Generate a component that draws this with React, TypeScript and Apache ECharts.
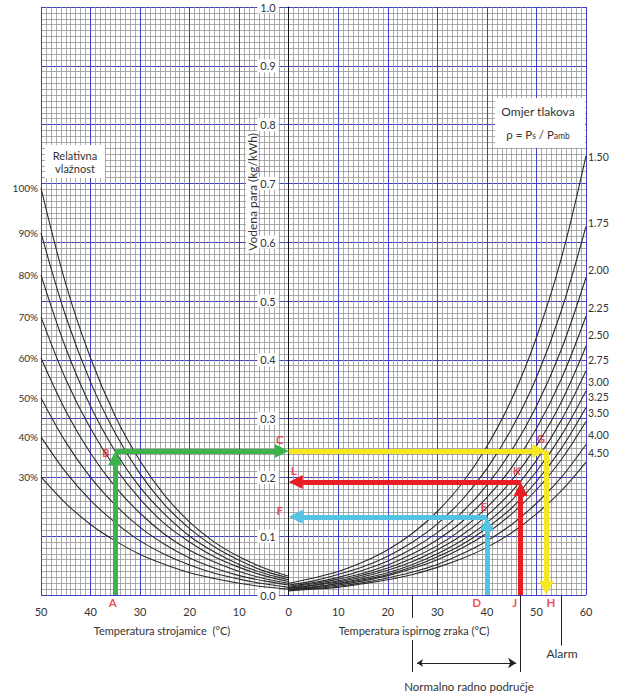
import React, { useEffect, useRef } from 'react';
import * as echarts from 'echarts';

// Engine-room temperature (left half, plotted at x = -T)
const ENGINE_ROOM_T = [50, 45, 40, 35, 30, 25, 20, 15, 10, 5, 0];
const RH_NAMES = ['100%', '90%', '80%', '70%', '60%', '50%', '40%', '30%'];
const RH_100 = [0.692, 0.529, 0.403, 0.304, 0.228, 0.169, 0.124, 0.090, 0.065, 0.046, 0.032];
const RH_90 = [0.616, 0.474, 0.362, 0.275, 0.206, 0.153, 0.113, 0.082, 0.059, 0.041, 0.029];
const RH_80 = [0.544, 0.420, 0.321, 0.244, 0.183, 0.137, 0.100, 0.073, 0.052, 0.037, 0.026];
const RH_70 = [0.473, 0.367, 0.283, 0.216, 0.163, 0.121, 0.090, 0.065, 0.047, 0.033, 0.023];
const RH_60 = [0.403, 0.313, 0.241, 0.184, 0.139, 0.103, 0.076, 0.056, 0.040, 0.028, 0.020];
const RH_50 = [0.335, 0.260, 0.200, 0.153, 0.115, 0.086, 0.063, 0.046, 0.033, 0.024, 0.017];
const RH_40 = [0.269, 0.209, 0.161, 0.123, 0.092, 0.069, 0.051, 0.037, 0.027, 0.019, 0.013];
const RH_30 = [0.201, 0.156, 0.120, 0.092, 0.069, 0.052, 0.038, 0.028, 0.020, 0.014, 0.010];
const RH_CURVES = [RH_100, RH_90, RH_80, RH_70, RH_60, RH_50, RH_40, RH_30];

// Scavenge-air temperature (right half)
const SCAV_T = [0, 5, 10, 15, 20, 25, 30, 35, 40, 45, 50, 55, 60];
const RATIO_NAMES = ['1.50', '1.75', '2.00', '2.25', '2.50', '2.75', '3.00', '3.25', '3.50', '4.00', '4.50'];
const P_150 = [0.020, 0.029, 0.040, 0.056, 0.077, 0.105, 0.142, 0.190, 0.253, 0.333, 0.438, 0.572, 0.747];
const P_175 = [0.017, 0.024, 0.035, 0.048, 0.066, 0.090, 0.121, 0.162, 0.215, 0.283, 0.370, 0.483, 0.627];
const P_200 = [0.015, 0.021, 0.030, 0.042, 0.058, 0.079, 0.106, 0.141, 0.187, 0.246, 0.321, 0.417, 0.540];
const P_225 = [0.013, 0.019, 0.027, 0.037, 0.051, 0.070, 0.094, 0.125, 0.166, 0.217, 0.283, 0.367, 0.474];
const P_250 = [0.012, 0.017, 0.024, 0.034, 0.046, 0.063, 0.084, 0.112, 0.149, 0.195, 0.254, 0.328, 0.423];
const P_275 = [0.011, 0.016, 0.022, 0.031, 0.042, 0.057, 0.077, 0.102, 0.135, 0.176, 0.229, 0.297, 0.381];
const P_300 = [0.010, 0.014, 0.020, 0.028, 0.038, 0.052, 0.070, 0.093, 0.123, 0.161, 0.210, 0.271, 0.347];
const P_325 = [0.009, 0.013, 0.019, 0.026, 0.035, 0.048, 0.065, 0.086, 0.114, 0.148, 0.193, 0.249, 0.319];
const P_350 = [0.009, 0.012, 0.017, 0.024, 0.033, 0.045, 0.060, 0.080, 0.105, 0.138, 0.179, 0.230, 0.295];
const P_400 = [0.008, 0.011, 0.015, 0.021, 0.029, 0.039, 0.052, 0.070, 0.092, 0.120, 0.156, 0.200, 0.256];
const P_450 = [0.007, 0.010, 0.013, 0.019, 0.026, 0.035, 0.047, 0.062, 0.081, 0.106, 0.138, 0.177, 0.226];
const RATIO_CURVES = [P_150, P_175, P_200, P_225, P_250, P_275, P_300, P_325, P_350, P_400, P_450];
const RATIO_LABEL_AT = [0.745, 0.633, 0.553, 0.488, 0.442, 0.400, 0.362, 0.337, 0.310, 0.272, 0.241];

// Worked examples (data coords: x = temperature, left side negative)
const GREEN_PATH = [[-35, 0], [-35, 0.245], [0, 0.245]];
const YELLOW_PATH = [[0, 0.245], [52, 0.245], [52, 0]];
const RED_PATH = [[46.8, 0], [46.8, 0.192], [0, 0.192]];
const CYAN_PATH = [[40, 0], [40, 0.133], [0, 0.133]];
const LETTERS: [string, number, number][] = [
  ['A', -35.5, -0.013], ['B', -36.9, 0.243], ['C', -1.8, 0.264],
  ['D', 37.9, -0.013], ['E', 39.4, 0.151], ['F', -1.8, 0.143],
  ['G', 50.9, 0.267], ['H', 52.9, -0.013], ['J', 45.6, -0.013],
  ['K', 46.0, 0.211], ['L', 1.0, 0.211],
];
const NORMAL_RANGE = [25, 46.8];
const ALARM_T = 55;

const FONT = 'Lato, "Open Sans", sans-serif';
const TXT = '#333';
const BLUE = '#4141c2';
const X_MIN = -50, X_MAX = 60;
const G_LEFT = 41, G_RIGHT = 34, G_TOP = 7, G_BOTTOM = 99;
const PLOT_W = 620 - G_LEFT - G_RIGHT;
const PLOT_H = 694 - G_TOP - G_BOTTOM;
const HEAD = 14;

function shortenEnd(from: number[], to: number[], px: number) {
  const dxp = (to[0] - from[0]) * PLOT_W / (X_MAX - X_MIN);
  const dyp = (to[1] - from[1]) * PLOT_H;
  const len = Math.hypot(dxp, dyp);
  const r = (len - px) / len;
  return [from[0] + (to[0] - from[0]) * r, from[1] + (to[1] - from[1]) * r];
}

function arrowSeries(path: number[][], color: string) {
  const data = [];
  for (let i = 0; i < path.length - 1; i++) {
    data.push({ coords: [path[i], shortenEnd(path[i], path[i + 1], HEAD / 2)] });
  }
  return {
    type: 'lines', coordinateSystem: 'cartesian2d', clip: false, silent: true, z: 6,
    symbol: ['none', 'triangle'], symbolSize: [HEAD, HEAD],
    lineStyle: { color, width: 5, opacity: 1 },
    itemStyle: { color },
    data,
  };
}

function buildOption() {
  const series: any[] = [];
  RH_CURVES.forEach((vals, i) => {
    const pts = ENGINE_ROOM_T.map((t, j) => [-t, vals[j]]);
    series.push({
      type: 'line', name: RH_NAMES[i], data: pts, smooth: 0.35,
      symbol: 'none', silent: true, z: 3,
      lineStyle: { color: '#2b2b2b', width: 1.1 },
      markPoint: {
        symbol: 'circle', symbolSize: 0, silent: true,
        label: { show: true, position: 'left', distance: 3, formatter: RH_NAMES[i], color: TXT, fontSize: 10, fontFamily: FONT },
        data: [{ coord: [-ENGINE_ROOM_T[0], vals[0]] }],
      },
    });
  });
  RATIO_CURVES.forEach((vals, i) => {
    series.push({
      type: 'line', name: RATIO_NAMES[i], data: SCAV_T.map((t, j) => [t, vals[j]]),
      smooth: 0.35, symbol: 'none', silent: true, z: 3,
      lineStyle: { color: '#2b2b2b', width: 1.1 },
      markPoint: {
        symbol: 'circle', symbolSize: 0, silent: true,
        label: { show: true, position: 'right', distance: 2, formatter: RATIO_NAMES[i], color: TXT, fontSize: 10.5, fontFamily: FONT },
        data: [{ coord: [SCAV_T[SCAV_T.length - 1], RATIO_LABEL_AT[i]] }],
      },
    });
  });
  series.push(arrowSeries(YELLOW_PATH, '#f6e71e'));
  series.push(arrowSeries(GREEN_PATH, '#3cb44b'));
  series.push(arrowSeries(CYAN_PATH, '#52c3e3'));
  series.push(arrowSeries(RED_PATH, '#ea1d25'));

  // annotation lines below the axis
  const yDrop = -0.131, yArrow = -0.1156, yGapTop = -0.039, yGapBottom = -0.0765, yAlarm = -0.086;
  series.push({
    type: 'lines', coordinateSystem: 'cartesian2d', clip: false, silent: true, z: 5,
    symbol: 'none', lineStyle: { color: '#222', width: 1, opacity: 1 },
    data: [
      { coords: [[NORMAL_RANGE[0], 0], [NORMAL_RANGE[0], yGapTop]] },
      { coords: [[NORMAL_RANGE[0], yGapBottom], [NORMAL_RANGE[0], yDrop]] },
      { coords: [[NORMAL_RANGE[1], 0], [NORMAL_RANGE[1], yDrop]] },
      { coords: [[ALARM_T, 0], [ALARM_T, yAlarm]] },
    ],
  });
  series.push({
    type: 'lines', coordinateSystem: 'cartesian2d', clip: false, silent: true, z: 5,
    symbol: ['arrow', 'arrow'], symbolSize: [6, 8],
    lineStyle: { color: '#222', width: 1, opacity: 1 }, itemStyle: { color: '#222' },
    data: [{ coords: [[NORMAL_RANGE[0] + 0.9, yArrow], [NORMAL_RANGE[1] - 0.9, yArrow]] }],
  });
  series.push({
    type: 'scatter', clip: false, silent: true, z: 8, symbolSize: 0.1,
    itemStyle: { color: 'rgba(0,0,0,0)' },
    label: {
      show: true, position: 'inside', formatter: (p: any) => p.value[2],
      color: '#e8202a', fontSize: 11.5, fontWeight: 'bold', fontFamily: FONT,
    },
    data: LETTERS.map(([n, x, y]) => [x, y, n]),
  });

  const txt = (text: string, x: number, y: number, fontSize = 11, extra: any = {}) => ({
    type: 'text', x, y, z: 20, silent: true,
    style: { text, fill: TXT, fontSize, fontFamily: FONT, align: 'center', verticalAlign: 'middle', ...extra },
  });

  const vTitle: any = txt('Vodena para (kg/kWh)', 252, 192, 12, { backgroundColor: '#fff', padding: [0, 2] });
  vTitle.rotation = Math.PI / 2;

  return {
    animation: false,
    backgroundColor: '#fff',
    grid: { left: G_LEFT, right: G_RIGHT, top: G_TOP, bottom: G_BOTTOM },
    xAxis: {
      type: 'value', min: X_MIN, max: X_MAX, interval: 10,
      axisLine: { show: false }, axisTick: { show: false },
      axisLabel: { formatter: (v: number) => String(Math.abs(v)), margin: 11, color: TXT, fontSize: 11, fontFamily: FONT },
      splitLine: { show: true, lineStyle: { color: BLUE, width: 1 } },
      minorTick: { show: false, splitNumber: 10 },
      minorSplitLine: { show: true, lineStyle: { color: '#959595', width: 0.8 } },
    },
    yAxis: {
      type: 'value', min: 0, max: 1, interval: 0.1, position: 'left',
      offset: -(PLOT_W * (0 - X_MIN) / (X_MAX - X_MIN)),
      axisLine: { show: true, onZero: false, lineStyle: { color: '#111', width: 1 } },
      axisTick: { show: false },
      axisLabel: {
        formatter: (v: number) => v.toFixed(1), margin: 10, color: TXT, fontSize: 11, fontFamily: FONT,
        backgroundColor: '#fff', padding: [1, 3],
      },
      splitLine: { show: true, lineStyle: { color: BLUE, width: 1 } },
      minorTick: { show: false, splitNumber: 10 },
      minorSplitLine: { show: true, lineStyle: { color: '#959595', width: 0.8 } },
    },
    graphic: [
      { type: 'rect', z: 15, silent: true, shape: { x: 45, y: 145, width: 60, height: 33 }, style: { fill: '#fff' } },
      txt('Relativna', 75, 155, 11),
      txt('vlažnost', 75, 168, 11),
      { type: 'rect', z: 15, silent: true, shape: { x: 495, y: 98, width: 90, height: 50 }, style: { fill: '#fff' } },
      txt('Omjer tlakova', 538, 111, 12),
      {
        type: 'text', x: 538, y: 134, z: 20, silent: true,
        style: {
          text: '{n|ρ = P}{s|s}{n| / P}{s|amb}', align: 'center', verticalAlign: 'middle', fill: TXT,
          rich: {
            n: { fontSize: 11.5, fontFamily: FONT, fill: TXT, color: TXT },
            s: { fontSize: 8.5, fontFamily: FONT, fill: TXT, color: TXT, padding: [4, 0, 0, 0] },
          },
        },
      },
      vTitle,
      txt('Temperatura strojamice  (°C)', 162, 630, 11),
      txt('Temperatura ispirnog zraka (°C)', 414, 630, 11),
      txt('Normalno radno područje', 469, 686, 11.5),
      txt('Alarm', 562, 653, 12),
    ],
    series,
  };
}

export default function App() {
  const ref = useRef<HTMLDivElement>(null);
  useEffect(() => {
    const chart = echarts.init(ref.current!, null, { renderer: 'svg' });
    chart.setOption(buildOption() as any);
    return () => chart.dispose();
  }, []);
  return (
    <div
      ref={ref}
      style={{ position: 'fixed', left: 0, top: 0, width: 620, height: 694, background: '#fff' }}
    />
  );
}
